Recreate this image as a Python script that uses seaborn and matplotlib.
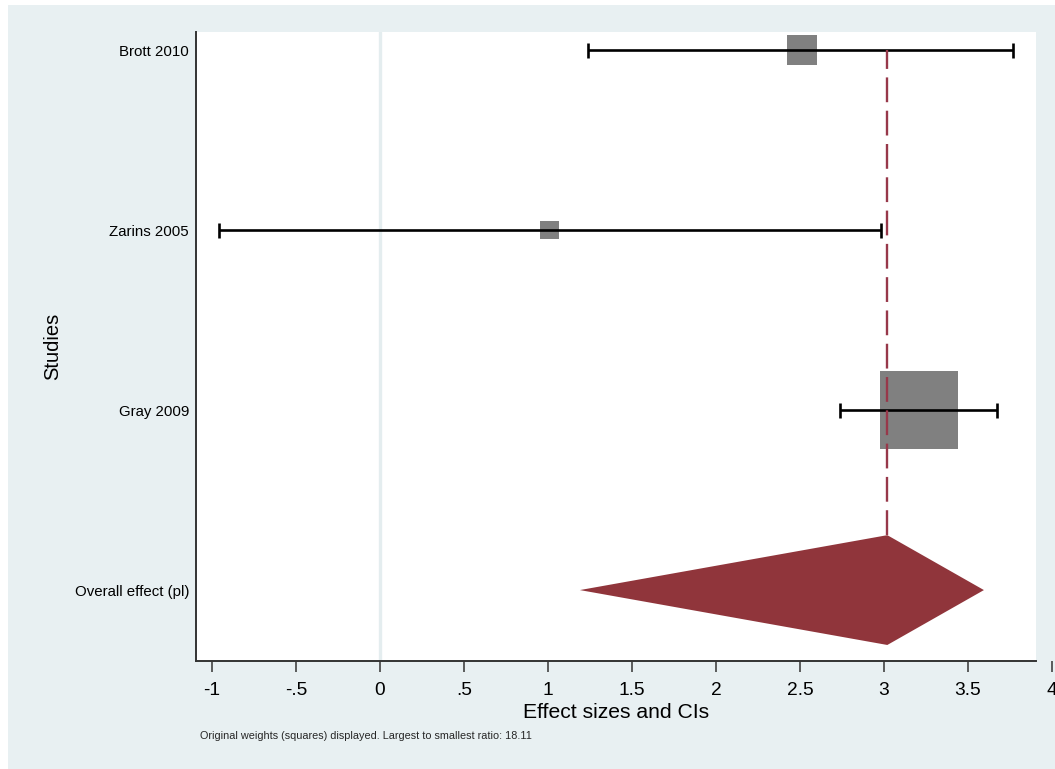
"""
Forest plot (Stata metan look) redrawn with seaborn / matplotlib.
"""

import numpy as np
import pandas as pd
import matplotlib
matplotlib.use("Agg")
import matplotlib.pyplot as plt
from matplotlib.patches import Rectangle
import seaborn as sns

# ── Data ─────────────────────────────────────────────────────────────────────

studies = ["Brott 2010", "Zarins 2005", "Gray 2009"]
effect = [2.51, 1.01, 3.21]
ci_low = [1.24, -0.96, 2.74]
ci_high = [3.77, 2.98, 3.67]
weights = [12.4, 4.6, 83.0]

overall_label = "Overall effect (pl)"
overall_effect = 3.02
overall_low = 1.19
overall_high = 3.595

x_ticks = [-1, -0.5, 0, 0.5, 1, 1.5, 2, 2.5, 3, 3.5, 4]
x_tick_labels = ["-1", "-.5", "0", ".5", "1", "1.5", "2", "2.5", "3", "3.5", "4"]
ratio_text = "18.11"

# ── Style ────────────────────────────────────────────────────────────────────

BG = "#E8F0F2"
SQUARE = "#808080"
DIAMOND = "#90353B"
DASH = "#97384A"
NULL_LINE = "#E4EDEF"
AXIS = "#333333"

sns.set_theme(style="white")
plt.rcParams["font.family"] = ["Liberation Sans", "DejaVu Sans"]

W, H, DPI = 1055, 769, 100
fig = plt.figure(figsize=(W / DPI, H / DPI), dpi=DPI, facecolor="white")
fig.patches.append(Rectangle((8 / W, 0), 1 - 8 / W, (H - 5) / H,
                             transform=fig.transFigure, facecolor=BG,
                             edgecolor="none", zorder=-10))

ax = fig.add_axes([196 / W, (H - 661) / H, (W - 196) / W, (661 - 32) / H])
ax.set_facecolor("white")

n = len(studies)
df = pd.DataFrame({
    "study": studies,
    "effect": effect,
    "low": ci_low,
    "high": ci_high,
    "weight": weights,
    "ypos": np.arange(n + 1, 1, -1),
})
y_overall = 1

# axis ranges (plot region ends before the last tick, like the original)
x_left, x_right = -1.095, 3.905
x_max = x_left + (W - 196) / 168
ax.set_xlim(x_left, x_max)
ax.set_ylim(0.606, n + 1.1)

# null line at zero
ax.axvline(0, color=NULL_LINE, lw=2.4, zorder=0)

# weight squares (area proportional to weight)
max_side_pt = 78 * 0.72
s_max = max_side_pt ** 2
s_min = s_max * min(weights) / max(weights)
sns.scatterplot(data=df, x="effect", y="ypos", size="weight",
                sizes=(s_min, s_max), marker="s", color=SQUARE,
                edgecolor="none", legend=False, ax=ax, zorder=2)

# confidence intervals
ax.errorbar(df["effect"], df["ypos"],
            xerr=[df["effect"] - df["low"], df["high"] - df["effect"]],
            fmt="none", ecolor="black", elinewidth=1.9, capsize=5.4,
            capthick=1.9, zorder=3)

# overall diamond
half_h = 0.305
ax.fill([overall_low, overall_effect, overall_high, overall_effect],
        [y_overall, y_overall + half_h, y_overall, y_overall - half_h],
        color=DIAMOND, lw=0, zorder=3)

# overall effect line
ax.vlines(overall_effect, y_overall + half_h, df["ypos"].max(), color=DASH,
          lw=1.7, linestyles=(0, (10.5, 3.6)), zorder=4)

# part of the axes beyond the plot region gets the outer colour
ax.axvspan(x_right, x_max, color=BG, lw=0, zorder=5)

# axes
ax.set_yticks(list(df["ypos"]) + [y_overall])
ax.set_yticklabels(studies + [overall_label], fontsize=10.8, color="black")
ax.set_xticks(x_ticks)
ax.set_xticklabels(x_tick_labels, fontsize=13.8, color="black")
ax.tick_params(axis="y", length=0, pad=5)
ax.tick_params(axis="x", length=8, width=1.1, color=AXIS, pad=7,
               bottom=True, direction="out")

for side in ["top", "right"]:
    ax.spines[side].set_visible(False)
for side in ["left", "bottom"]:
    ax.spines[side].set_color(AXIS)
    ax.spines[side].set_linewidth(1.4)
    ax.spines[side].set_zorder(6)
ax.spines["bottom"].set_bounds(x_left, x_right)

ax.set_xlabel("Effect sizes and CIs", fontsize=15.2, color="black")
mid = ((x_left + x_right) / 2 - x_left) / (x_max - x_left)
ax.xaxis.set_label_coords(mid, -0.067)
ax.set_ylabel("Studies", fontsize=14.5, color="black")
ax.yaxis.set_label_coords(-0.156, 0.5)

fig.text(200 / W, (H - 736) / H,
         "Original weights (squares) displayed. Largest to smallest ratio: "
         + ratio_text, fontsize=7.8, va="center", ha="left")

fig.savefig("out.png", dpi=DPI, facecolor=fig.get_facecolor())
plt.close(fig)
